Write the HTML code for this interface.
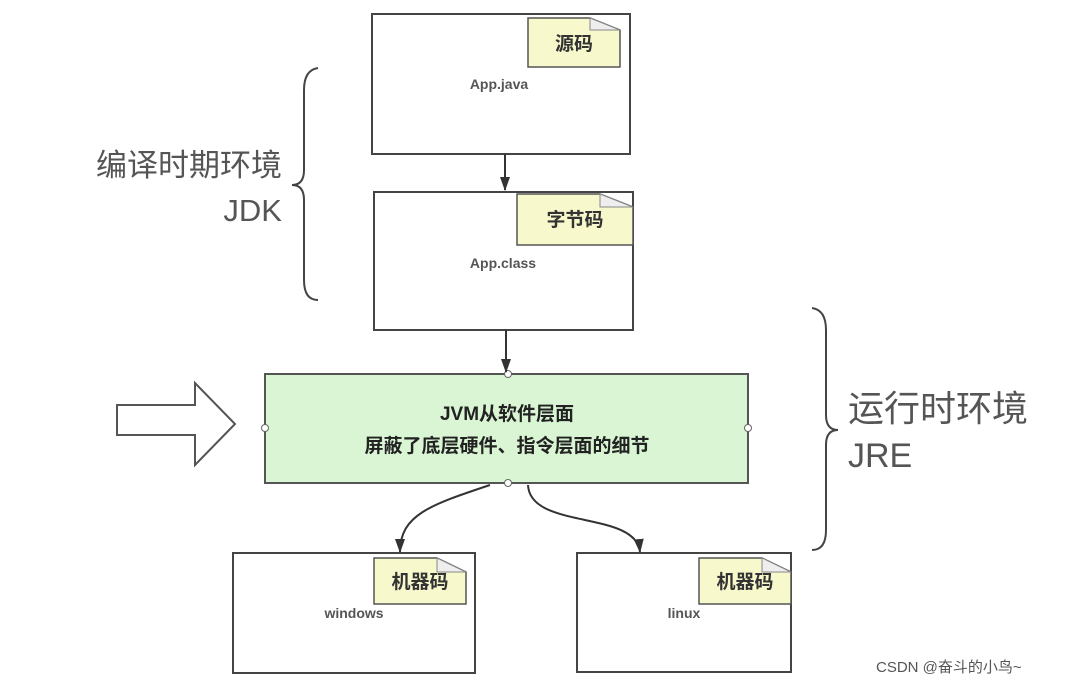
<!DOCTYPE html>
<html><head><meta charset="utf-8"><style>
body{margin:0;background:#fff;}
svg text{font-family:"Liberation Sans","Noto Sans CJK SC",sans-serif;}
</style></head><body>
<svg width="1074" height="687" viewBox="0 0 1074 687" xmlns="http://www.w3.org/2000/svg">
<defs><marker id="a" markerWidth="14" markerHeight="12" refX="13" refY="5" orient="auto" markerUnits="userSpaceOnUse"><path d="M0,0 L14,5 L0,10 Z" fill="#333"/></marker></defs>
<g stroke="#444" stroke-width="2" fill="#fff">
<rect x="372" y="14" width="258" height="140"/>
<rect x="374" y="192" width="259" height="138"/>
<rect x="233" y="553" width="242" height="120"/>
<rect x="577" y="553" width="214" height="119"/>
</g>
<g stroke="#555" stroke-width="1.5" fill="#f7f8cc">
<path d="M528,18 H590 L620,30 V67 H528 Z"/>
<path d="M517,194 H600 L633,207 V245 H517 Z"/>
<path d="M374,558 H437 L466,572 V604 H374 Z"/>
<path d="M699,558 H762 L791,572 V604 H699 Z"/>
</g>
<g fill="#eee" stroke="#888" stroke-width="1">
<path d="M590,18 V30 H620 Z"/><path d="M600,194 V207 H633 Z"/><path d="M437,558 V572 H466 Z"/><path d="M762,558 V572 H791 Z"/>
</g>
<g font-size="19" font-weight="bold" fill="#333" text-anchor="middle">
<text x="574" y="50">源码</text><text x="575" y="226">字节码</text>
<text x="420" y="588">机器码</text><text x="745" y="588">机器码</text>
</g>
<g font-size="14" font-weight="bold" fill="#555" text-anchor="middle">
<text x="499" y="89">App.java</text><text x="503" y="268">App.class</text>
<text x="354" y="618">windows</text><text x="684" y="618">linux</text>
</g>
<rect x="265" y="374" width="483" height="109" fill="#d9f5d3" stroke="#555" stroke-width="2"/>
<g font-size="19" font-weight="bold" fill="#222" text-anchor="middle">
<text x="507" y="420">JVM从软件层面</text><text x="507" y="452">屏蔽了底层硬件、指令层面的细节</text>
</g>
<g fill="#fff" stroke="#666" stroke-width="1"><circle cx="508" cy="374" r="3.5"/><circle cx="508" cy="483" r="3.5"/><circle cx="265" cy="428" r="3.5"/><circle cx="748" cy="428" r="3.5"/></g>
<g stroke="#333" stroke-width="2" fill="none">
<path d="M505,154 V190" marker-end="url(#a)"/>
<path d="M506,330 V372" marker-end="url(#a)"/>
<path d="M490,485 C430,505 400,515 400,552" marker-end="url(#a)"/>
<path d="M528,485 C530,530 636,510 640,552" marker-end="url(#a)"/>
</g>
<path d="M117,405 H195 V383 L235,424 L195,465 V435 H117 Z" fill="#fff" stroke="#555" stroke-width="2"/>
<g stroke="#444" stroke-width="2" fill="none">
<path d="M318,68 Q304,70 304,90 V170 Q304,185 292,185 Q304,185 304,200 V280 Q304,300 318,300"/>
<path d="M812,308 Q826,310 826,330 V415 Q826,430 838,430 Q826,430 826,445 V530 Q826,550 812,550"/>
</g>
<g font-size="31" fill="#555">
<text x="96" y="176">编译时期环境</text><text x="282" y="221" text-anchor="end">JDK</text>
<text x="848" y="421" font-size="36">运行时环境</text><text x="848" y="467" font-size="34">JRE</text>
</g>
<text x="876" y="672" font-size="15" fill="#555">CSDN @奋斗的小鸟~</text>
</svg>
</body></html>
